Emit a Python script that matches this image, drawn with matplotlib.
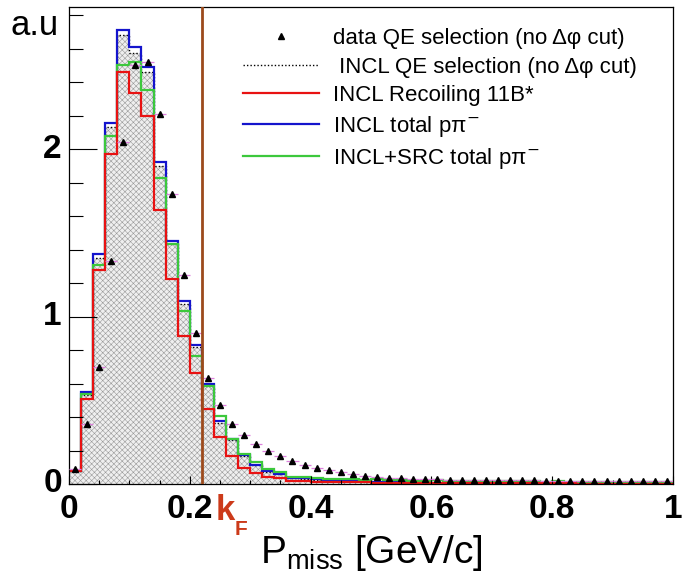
import numpy as np
import matplotlib
matplotlib.use('Agg')
import matplotlib.pyplot as plt
from matplotlib.ticker import MultipleLocator

plt.rcParams['font.family'] = ['Liberation Sans', 'DejaVu Sans']
plt.rcParams['hatch.linewidth'] = 0.4
plt.rcParams['hatch.color'] = '#9a9a9a'

# binning: 50 bins, 0 -> 1 GeV/c
edges = np.linspace(0, 1, 51)
centers = 0.5 * (edges[:-1] + edges[1:])

data_qe = [0.09, 0.36, 0.70, 1.33, 2.04, 2.50, 2.52, 2.21, 1.73, 1.25,
           0.90, 0.63, 0.47, 0.36, 0.29, 0.24, 0.20, 0.167, 0.139, 0.115,
           0.097, 0.081, 0.070, 0.060, 0.050, 0.044, 0.038, 0.034, 0.031, 0.029,
           0.027, 0.026, 0.025, 0.024, 0.023, 0.022, 0.022, 0.021, 0.021, 0.020,
           0.020, 0.019, 0.019, 0.018, 0.018, 0.018, 0.017, 0.017, 0.017, 0.016]

incl_qe = [0.075, 0.53, 1.35, 2.13, 2.68, 2.575, 2.46, 1.90, 1.43, 1.075,
           0.815, 0.585, 0.365, 0.26, 0.168, 0.112, 0.073, 0.057, 0.034, 0.032,
           0.026, 0.021, 0.019, 0.017, 0.014, 0.013, 0.011, 0.010, 0.009, 0.008,
           0.007, 0.007, 0.006, 0.006, 0.005, 0.005, 0.004, 0.004, 0.004, 0.003,
           0.003, 0.003, 0.003, 0.002, 0.002, 0.002, 0.002, 0.002, 0.002, 0.002]

incl_recoil = [0.075, 0.51, 1.276, 1.97, 2.46, 2.335, 2.196, 1.633, 1.224, 0.883,
               0.661, 0.446, 0.281, 0.170, 0.098, 0.064, 0.044, 0.034, 0.020, 0.018,
               0.014, 0.013, 0.011, 0.010, 0.009, 0.008, 0.007, 0.007, 0.006, 0.006,
               0.005, 0.005, 0.005, 0.004, 0.004, 0.004, 0.004, 0.003, 0.003, 0.003,
               0.003, 0.003, 0.002, 0.002, 0.002, 0.002, 0.002, 0.002, 0.002, 0.002]

incl_total = [0.08, 0.55, 1.373, 2.157, 2.712, 2.61, 2.49, 1.92, 1.452, 1.091,
              0.829, 0.595, 0.375, 0.268, 0.174, 0.116, 0.076, 0.060, 0.036, 0.034,
              0.028, 0.022, 0.020, 0.018, 0.015, 0.014, 0.012, 0.011, 0.010, 0.009,
              0.008, 0.008, 0.007, 0.007, 0.006, 0.006, 0.005, 0.005, 0.005, 0.004,
              0.004, 0.004, 0.004, 0.003, 0.003, 0.003, 0.003, 0.003, 0.002, 0.002]

incl_src = [0.08, 0.537, 1.305, 2.08, 2.50, 2.52, 2.35, 1.83, 1.435, 1.032,
            0.764, 0.585, 0.407, 0.268, 0.182, 0.133, 0.091, 0.073, 0.043, 0.043,
            0.034, 0.030, 0.030, 0.028, 0.024, 0.032, 0.025, 0.022, 0.020, 0.020,
            0.022, 0.018, 0.020, 0.017, 0.018, 0.016, 0.017, 0.015, 0.016, 0.014,
            0.015, 0.013, 0.014, 0.012, 0.012, 0.011, 0.011, 0.010, 0.010, 0.009]

k_fermi = 0.221

fig = plt.figure(figsize=(6.89, 5.80), dpi=100)
ax = fig.add_axes([69/689, 1-484/580, 604/689, 477/580])

# INCL QE selection: grey pattern fill + dotted outline
ax.stairs(incl_qe, edges, fill=True, facecolor='#efefef', edgecolor='#9a9a9a',
          hatch='xxxxxx', linewidth=0)
ax.stairs(incl_qe, edges, color='k', linestyle=(0, (1, 1.5)), linewidth=1.0,
          baseline=None)
ax.stairs(incl_total, edges, color='#1414cc', linewidth=1.6, baseline=None)
ax.stairs(incl_src, edges, color='#3cc83c', linewidth=1.6, baseline=None)
ax.stairs(incl_recoil, edges, color='#e81212', linewidth=1.6, baseline=None)

ax.errorbar(centers, data_qe, xerr=0.01, fmt='none', ecolor='#dd80dd',
            elinewidth=0.9, zorder=4)
ax.plot(centers, data_qe, linestyle='none', marker='^', color='k',
        markersize=5, zorder=5)

ax.axvline(k_fermi, color='#9c4a1c', linewidth=2.0, zorder=6)

ax.set_xlim(0, 1)
ax.set_ylim(0, 2.848)

ax.xaxis.set_major_locator(MultipleLocator(0.2))
ax.xaxis.set_minor_locator(MultipleLocator(0.05))
ax.yaxis.set_major_locator(MultipleLocator(1))
ax.yaxis.set_minor_locator(MultipleLocator(0.2))
ax.set_xticklabels([])
ax.set_yticklabels([])
ax.tick_params(axis='x', which='major', direction='in', length=6, width=0.8,
               top=False)
ax.tick_params(axis='x', which='minor', direction='in', length=3, width=0.8,
               top=False)
ax.tick_params(axis='y', which='major', direction='in', length=20, width=0.8,
               right=False)
ax.tick_params(axis='y', which='minor', direction='in', length=10, width=0.8,
               right=False)
for s in ax.spines.values():
    s.set_linewidth(0.9)

# tick labels (ROOT style, bold)
xlab = ['0', '0.2', '0.4', '0.6', '0.8', '1']
for v, t in zip([0, 0.2, 0.4, 0.6, 0.8, 1.0], xlab):
    ax.text(v, -0.02, t, transform=ax.get_xaxis_transform(), ha='center',
            va='top', fontsize=24, fontweight='bold')
for v, t in zip([0, 1, 2], ['0', '1', '2']):
    ax.text(-0.012, v, t, transform=ax.get_yaxis_transform(), ha='right',
            va='center', fontsize=24, fontweight='bold')

h = [plt.Line2D([], [], linestyle='none', marker='^', color='k', markersize=5),
     plt.Line2D([], [], color='k', linestyle=(0, (1, 1.5)), linewidth=1.0),
     plt.Line2D([], [], color='#e81212', linewidth=1.6),
     plt.Line2D([], [], color='#1414cc', linewidth=1.6),
     plt.Line2D([], [], color='#3cc83c', linewidth=1.6)]
labels = ['data QE selection (no \u0394\u03c6 cut)',
          ' INCL QE selection (no \u0394\u03c6 cut)',
          'INCL Recoiling 11B*',
          'INCL total p\u03c0$^{-}$',
          'INCL+SRC total p\u03c0$^{-}$']
fig.legend(h, labels, loc='upper left', bbox_to_anchor=(243/689, 1-28/580),
           frameon=False, fontsize=16, handlelength=3.4, handletextpad=0.65,
           labelspacing=0.34, borderaxespad=0, borderpad=0)

fig.text(10/689, 1-35/580, 'a.u', fontsize=25, va='baseline', ha='left')
fig.text(216/689, 1-520/580, 'k', fontsize=25, fontweight='bold',
         color='#cc3a1a', va='baseline', ha='left')
fig.text(235/689, 1-535/580, 'F', fontsize=15, fontweight='bold',
         color='#cc3a1a', va='baseline', ha='left')
fig.text(371/689, 1-563/580, r'P$_{\mathregular{miss}}$ [GeV/c]', fontsize=28,
         va='baseline', ha='center')

fig.savefig('out.png', dpi=100)
